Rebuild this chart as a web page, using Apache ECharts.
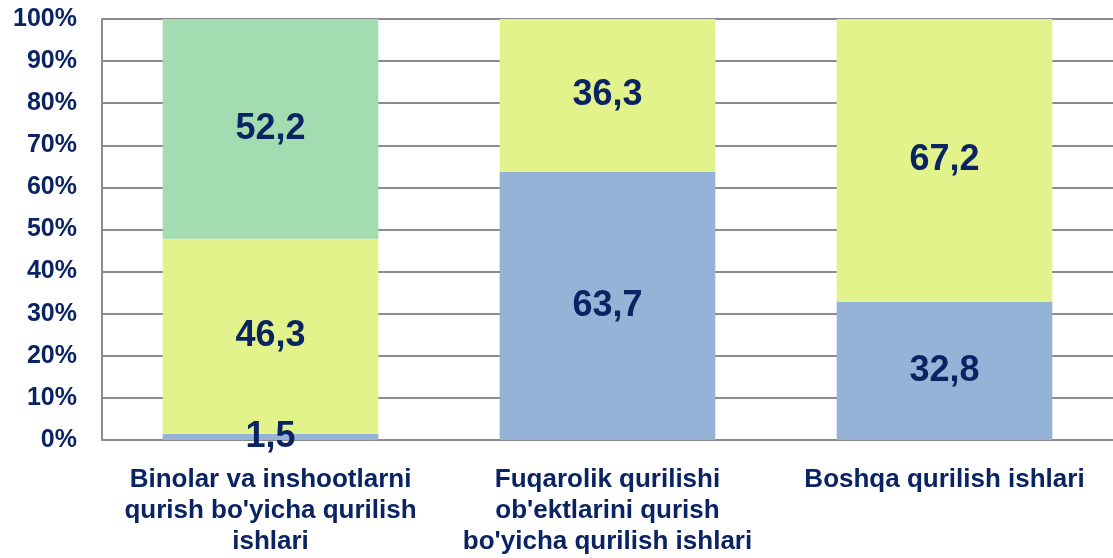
<!DOCTYPE html>
<html>
<head>
<meta charset="utf-8">
<script src="https://cdn.jsdelivr.net/npm/echarts@6/dist/echarts.min.js"></script>
<style>
  html, body { margin: 0; padding: 0; background: #fff; }
  #chart { width: 1113px; height: 558px; }
</style>
</head>
<body>
<div id="chart"></div>
<script>
// kategoriyalar (x o'qi)
var categories = [
  "Binolar va inshootlarni\nqurish bo'yicha qurilish\nishlari",
  "Fuqarolik qurilishi\nob'ektlarini qurish\nbo'yicha qurilish ishlari",
  "Boshqa qurilish ishlari"
];
// ulushlar, %
var blueValues = [1.5, 63.7, 32.8];
var yellowValues = [46.3, 36.3, 67.2];
var greenValues = [52.2, 0, 0];
var yTicks = [0, 10, 20, 30, 40, 50, 60, 70, 80, 90, 100];

var navy = '#0a2463';

function labelFmt(p) {
  if (!p.value) return '';
  return p.value.toFixed(1).replace('.', ',');
}

var barLabel = {
  show: true,
  position: 'inside',
  formatter: labelFmt,
  color: navy,
  fontFamily: 'Liberation Sans, Arial',
  fontWeight: 'bold',
  fontSize: 36
};

var chart = echarts.init(document.getElementById('chart'));

var option = {
  animation: false,
  grid: {
    left: 102,
    right: -4,
    top: 19,
    bottom: 118
  },
  xAxis: {
    type: 'category',
    data: categories,
    axisLine: { lineStyle: { color: '#8c8c8c', width: 2 } },
    axisTick: { show: false },
    axisLabel: {
      interval: 0,
      margin: 24,
      color: navy,
      fontFamily: 'Liberation Sans, Arial',
      fontWeight: 'bold',
      fontSize: 26,
      lineHeight: 31,
      align: 'center'
    }
  },
  yAxis: {
    type: 'value',
    min: yTicks[0],
    max: yTicks[yTicks.length - 1],
    interval: 10,
    axisLine: { show: true, lineStyle: { color: '#8c8c8c', width: 2 } },
    axisTick: { show: false },
    splitLine: { lineStyle: { color: '#8c8c8c', width: 2 } },
    axisLabel: {
      margin: 25,
      formatter: '{value}%',
      color: navy,
      fontFamily: 'Liberation Sans, Arial',
      fontWeight: 'bold',
      fontSize: 25
    }
  },
  series: [{
    name: 'blue',
    type: 'bar',
    stack: 'all',
    barWidth: '64%',
    data: blueValues,
    itemStyle: { color: '#95b3d7' },
    label: barLabel
  }, {
    name: 'yellow',
    type: 'bar',
    stack: 'all',
    data: yellowValues,
    itemStyle: { color: '#e3f38b' },
    label: barLabel
  }, {
    name: 'green',
    type: 'bar',
    stack: 'all',
    data: greenValues,
    itemStyle: { color: '#a3dcb1' },
    label: barLabel
  }]
};

chart.setOption(option);
</script>
</body>
</html>
